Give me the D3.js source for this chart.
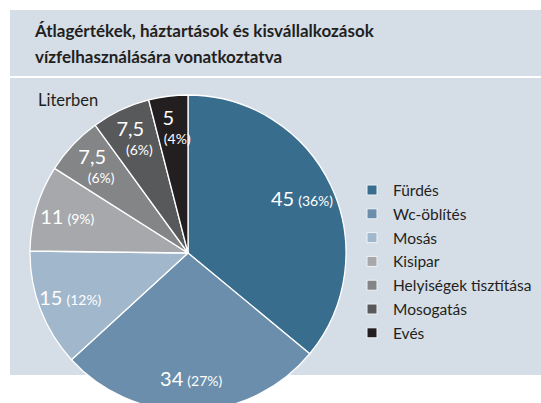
<!DOCTYPE html>
<html><head><meta charset="utf-8">
<script src="https://cdn.jsdelivr.net/npm/d3@7"></script>
<style>body{margin:0;background:#fff}svg{display:block}</style>
</head><body>
<script>
const categories = ["Fürdés","Wc-öblítés","Mosás","Kisipar","Helyiségek tisztítása","Mosogatás","Evés"];
const values = [45, 34, 15, 11, 7.5, 7.5, 5];
const valueLabels = ["45","34","15","11","7,5","7,5","5"];
const percentLabels = ["(36%)","(27%)","(12%)","(9%)","(6%)","(6%)","(4%)"];
const stacked = [false,false,false,false,true,true,true];
const colors = ["#386d8e","#6a8eab","#a1b7cc","#a7a8ab","#848587","#58595b","#231f20"];
const titleLines = ["Átlagértékek, háztartások és kisvállalkozások","vízfelhasználására vonatkoztatva"];
const unitLabel = "Literben";

const W = 541, H = 403;
const svg = d3.select("body").append("svg").attr("width", W).attr("height", H);
const font = "Lato, 'Open Sans', sans-serif";

svg.append("rect").attr("x",10).attr("y",10).attr("width",W-10).attr("height",365).attr("fill","#d5dde7");
svg.append("line").attr("x1",10).attr("x2",W).attr("y1",77).attr("y2",77).attr("stroke","#fff").attr("stroke-width",2);

svg.selectAll("text.title").data(titleLines).join("text")
  .attr("x",35).attr("y",(d,i)=>37+i*26)
  .attr("font-family",font).attr("font-weight","bold").attr("font-size",17)
  .attr("fill","#231f20").text(d=>d);

svg.append("text").attr("x",38).attr("y",106).attr("font-family",font).attr("font-size",16.5)
  .attr("fill","#231f20").text(unitLabel);

const cx = 188, cy = 253, R = 158;
const pie = d3.pie().sort(null).value(d=>d)(values);
const arc = d3.arc().innerRadius(0).outerRadius(R);
const g = svg.append("g").attr("transform",`translate(${cx},${cy})`);
g.selectAll("path").data(pie).join("path")
  .attr("d",arc).attr("fill",(d,i)=>colors[i])
  .attr("stroke","#fff").attr("stroke-width",1.3).attr("stroke-linejoin","round");

const labelArc = d3.arc().innerRadius(126).outerRadius(126);
pie.forEach((d,i)=>{
  const [x,y] = labelArc.centroid(d);
  const t = g.append("text").attr("font-family",font).attr("fill","#fff").attr("text-anchor","middle");
  if(!stacked[i]){
    t.attr("x",x).attr("y",y+7);
    t.append("tspan").attr("font-size",20).text(valueLabels[i]);
    t.append("tspan").attr("font-size",14).attr("dx",4).text(percentLabels[i]);
  } else {
    t.append("tspan").attr("x",x-4).attr("y",y-3).attr("font-size",20).text(valueLabels[i]);
    t.append("tspan").attr("x",x+5).attr("y",y+16).attr("font-size",14).text(percentLabels[i]);
  }
});

const leg = svg.append("g");
categories.forEach((c,i)=>{
  const y0 = 185 + i*23.8;
  leg.append("rect").attr("x",367).attr("y",y0).attr("width",10).attr("height",10)
    .attr("fill",colors[i]).attr("stroke","#eef2f6").attr("stroke-width",1);
  leg.append("text").attr("x",393).attr("y",y0+11).attr("font-family",font).attr("font-size",15.5)
    .attr("fill","#231f20").text(c);
});
</script>
</body></html>
